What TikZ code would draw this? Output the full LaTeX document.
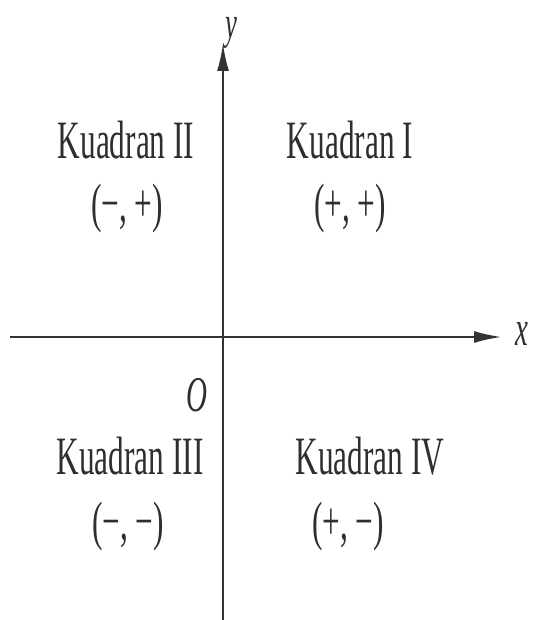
\documentclass[tikz,border=0pt]{standalone}
\usepackage{fontspec}
\setmainfont{Liberation Serif}
\usetikzlibrary{arrows.meta}
\begin{document}
\begin{tikzpicture}[x=1pt,y=1pt,
  lbl/.style={inner sep=0pt, text=black!82, xscale=0.58, anchor=base, font=\fontsize{54}{60}\selectfont},
  axlbl/.style={inner sep=0pt, text=black!82, xscale=0.58, font=\fontsize{50}{60}\selectfont\itshape},
  axis/.style={line width=2.6pt, draw=black!80, -{Latex[length=28pt,width=12pt]}}]
\useasboundingbox (0,0) rectangle (534,620);
\coordinate (xl) at (10,283);
\coordinate (xr) at (502,283);
\coordinate (yb) at (223,0);
\coordinate (yt) at (223,577);
\draw[axis] (xl) -- (xr);
\draw[axis] (yb) -- (yt);
\node[axlbl] (xlab) at (522,286) {x};
\node[axlbl, anchor=base, font=\fontsize{46}{50}\selectfont\itshape] (ylab) at (231,581) {y};
\node[axlbl] (O) at (197,225) {O};
\node[lbl] (k2) at (126,461) {Kuadran II};
\node[lbl] (p2) at (127,398) {(−, +)};
\node[lbl] (k1) at (350,461) {Kuadran I};
\node[lbl] (p1) at (350,398) {(+, +)};
\node[lbl] (k3) at (130,145) {Kuadran III};
\node[lbl] (p3) at (128,80) {(−, −)};
\node[lbl] (k4) at (370,145) {Kuadran IV};
\node[lbl] (p4) at (348,80) {(+, −)};
\end{tikzpicture}
\end{document}
